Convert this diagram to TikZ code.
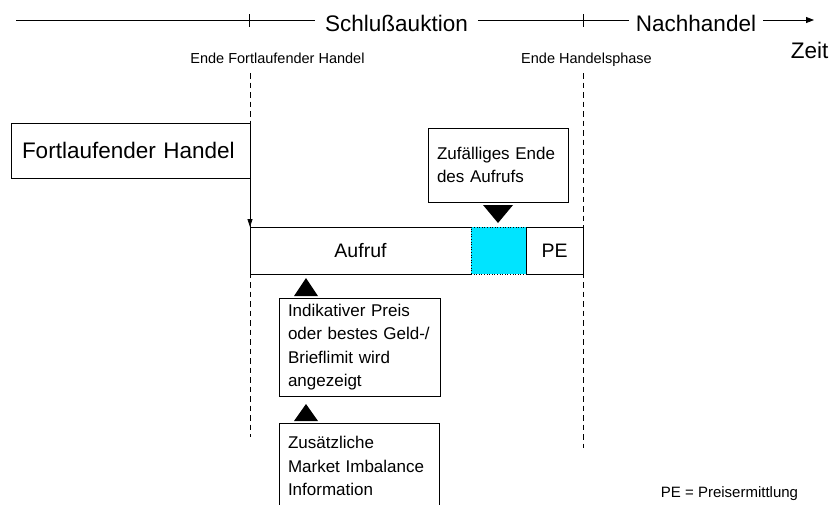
\documentclass[tikz,border=0pt]{standalone}
\usepackage{fontspec}
\setmainfont{Liberation Sans}
\usetikzlibrary{arrows.meta}
\definecolor{auctioncyan}{RGB}{0,228,255}
\tikzset{
  box/.style={draw, line width=0.8pt, inner sep=0pt, outer sep=0pt},
  bigtext/.style={font=\fontsize{22.5}{27}\selectfont},
  midtext/.style={font=\fontsize{17}{23.5}\selectfont},
  bartext/.style={font=\fontsize{19.5}{23}\selectfont},
  smalltext/.style={font=\fontsize{14.5}{17}\selectfont},
  phaseline/.style={line width=0.8pt},
  dashline/.style={line width=0.7pt, dash pattern=on 5.5pt off 4pt},
  marker/.style={fill=black},
}
\begin{document}
\begin{tikzpicture}[x=1pt,y=-1pt]
\useasboundingbox (0,0) rectangle (830,504);
\clip (0,0) rectangle (830,504);

% time line
\coordinate (tlstart) at (16,20);
\coordinate (tlend) at (814,20);
\coordinate (uA) at (250,73);
\coordinate (uB) at (583,73);
\coordinate (dA) at (250,437);
\coordinate (dB) at (583,448);

\node[bigtext, anchor=base, inner xsep=10pt] (schluss) at (396.5,31.5) {Schlußauktion};
\node[bigtext, anchor=base, inner xsep=7pt] (nach) at (696,31.5) {Nachhandel};
\node[bigtext, anchor=base] (zeit) at (809.5,58) {Zeit};
\node[smalltext, anchor=base] (endefh) at (277.5,63) {Ende Fortlaufender Handel};
\node[smalltext, anchor=base] (endehp) at (586.5,63) {Ende Handelsphase};

\draw[phaseline] (tlstart) -- (schluss.west |- tlstart);
\draw[phaseline] (schluss.east |- tlstart) -- (nach.west |- tlstart);
\draw[phaseline, -{Triangle[width=6pt,length=8pt]}] (nach.east |- tlstart) -- (tlend);
\draw[phaseline] (249,14) -- (249,27);
\draw[phaseline] (583,14) -- (583,27);

% dashed phase boundaries
\draw[dashline] (uA) -- (dA);
\draw[dashline] (uB) -- (dB);

% boxes
\node[box, bigtext, anchor=north west, minimum width=239pt, minimum height=55pt,
      text width=217pt, align=left] (fh) at (11,123) {Fortlaufender Handel};

\node[box, bartext, anchor=north west, minimum width=221pt, minimum height=47pt] (aufruf) at (250,227) {Aufruf};
\node[draw, line width=0.6pt, dotted, fill=auctioncyan, inner sep=0pt, outer sep=0pt,
      anchor=north west, minimum width=55pt, minimum height=47pt] (zufall) at (471,227) {};
\node[box, bartext, anchor=north west, minimum width=57pt, minimum height=47pt] (pe) at (526,227) {PE};

\draw[phaseline, -{Triangle[width=5pt,length=8pt]}] (fh.south east) -- (aufruf.north west);

\node[box, midtext, anchor=north west, minimum width=140pt, minimum height=74pt,
      text width=122pt, align=left] (zende) at (428,128) {Zufälliges Ende\\des Aufrufs};

\node[box, midtext, anchor=north west, minimum width=161pt, minimum height=98pt,
      text width=143pt, align=left] (indik) at (279,298) {Indikativer Preis\\oder bestes Geld-/\\Brieflimit wird\\angezeigt};

\node[box, midtext, anchor=north west, minimum width=160pt, minimum height=86pt,
      text width=142pt, align=left] (zusatz) at (279,423) {Zusätzliche\\Market Imbalance\\Information};

% triangle markers
\fill[marker] (483,205) -- (513,205) -- (498,223) -- cycle;
\fill[marker] (294,296) -- (306,278) -- (318,296) -- cycle;
\fill[marker] (294,421) -- (306,404) -- (318,421) -- cycle;

\node[font=\fontsize{15}{18}\selectfont, anchor=base] (legend) at (729.5,497) {PE = Preisermittlung};
\end{tikzpicture}
\end{document}
